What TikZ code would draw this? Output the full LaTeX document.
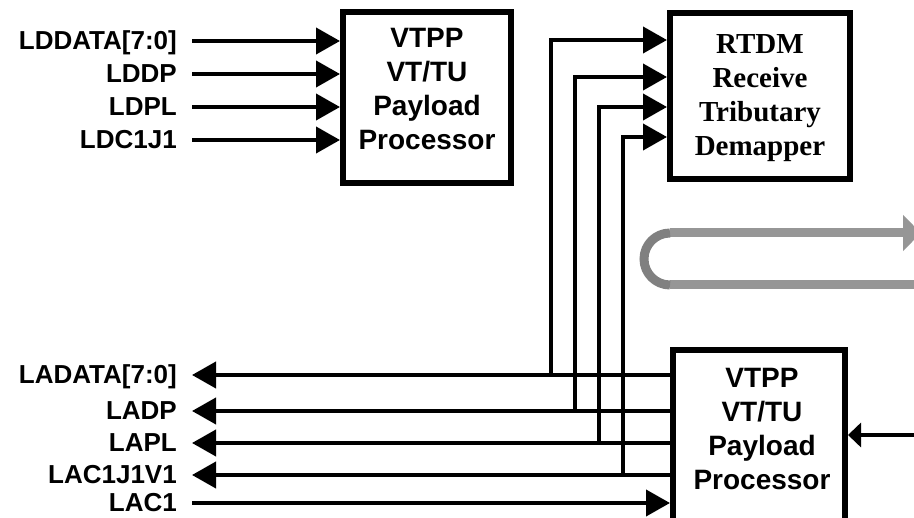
\documentclass[tikz,border=0pt]{standalone}
\usepackage{fontspec}
\setmainfont{Liberation Sans}
\newfontfamily\rtdmfont{Liberation Serif}
\usetikzlibrary{arrows.meta}
\begin{document}
\begin{tikzpicture}[x=1pt,y=-1pt,
  wire/.style={line width=4pt},
  inarr/.style={wire, -{Triangle[length=24pt,width=26pt]}},
  smallarr/.style={wire, -{Triangle[length=13pt,width=24pt]}},
  blk/.style={draw, line width=6pt, inner sep=0pt},
  sig/.style={font=\fontsize{26}{30}\selectfont\bfseries, anchor=base east, inner sep=0pt},
  btxt/.style={font=\fontsize{28}{34}\selectfont\bfseries, align=center, anchor=north, inner sep=0pt},
  stxt/.style={font=\fontsize{29}{34.2}\selectfont\rtdmfont\bfseries, align=center, anchor=north, inner sep=0pt},
  greyline/.style={draw=black!41, line width=9pt},
  greyarc/.style={draw=black!50, line width=9pt}
]
\useasboundingbox (0,0) rectangle (914,518);

% blocks
\node[blk, minimum width=168pt, minimum height=171pt] (vtpp1) at (427,97.5) {};
\node[btxt] (vtpp1t) at (427,28) {VTPP\\VT/TU\\Payload\\Processor};
\node[blk, minimum width=180pt, minimum height=166pt] (rtdm) at (760,96) {};
\node[stxt] (rtdmt) at (760,34) {RTDM\\Receive\\Tributary\\Demapper};
\node[blk, minimum width=172pt, minimum height=210pt] (vtpp2) at (759,455) {};
\node[btxt] (vtpp2t) at (762,368) {VTPP\\VT/TU\\Payload\\Processor};

% top-left inputs
\foreach \y/\t/\n in {41/LDDATA[7:0]/a, 74/LDDP/b, 107/LDPL/c, 140/LDC1J1/d}{
  \node[sig] (ld\n) at (177,\y+9) {\t};
  \coordinate (ls\n) at (192,\y);
  \draw[inarr] (ls\n) -- (vtpp1.west |- ls\n);
}

% bottom-left outputs
\foreach \y/\t/\n in {375/LADATA[7:0]/a, 411/LADP/b, 443/LAPL/c, 475/LAC1J1V1/d}{
  \node[sig] (la\n) at (177,\y+9) {\t};
  \coordinate (le\n) at (192,\y);
  \draw[inarr] (vtpp2.west |- le\n) -- (le\n);
}
\node[sig] (lae) at (177,503+9) {LAC1};
\coordinate (lee) at (192,503);
\draw[inarr] (lee) -- (vtpp2.west |- lee);

% taps to RTDM
\coordinate (ja) at (551,375);
\coordinate (jb) at (575,411);
\coordinate (jc) at (599,443);
\coordinate (jd) at (623,475);
\coordinate (ra) at (668,40);
\coordinate (rb) at (668,77);
\coordinate (rc) at (668,107);
\coordinate (rd) at (668,137);
\draw[inarr] (ja) |- (rtdm.west |- ra);
\draw[inarr] (jb) |- (rtdm.west |- rb);
\draw[inarr] (jc) |- (rtdm.west |- rc);
\draw[inarr] (jd) |- (rtdm.west |- rd);

% right input
\coordinate (rin) at (916,435);
\draw[smallarr] (rin) -- (vtpp2.east |- rin);

% grey loop
\coordinate (g1) at (670,233);
\coordinate (g2) at (670,285);
\coordinate (g1e) at (921,233);
\coordinate (g2e) at (916,285);
\draw[greyline, -{Triangle[length=18pt,width=35pt]}] (g1) -- (g1e);
\draw[greyline] (g2) -- (g2e);
\draw[greyarc] (g1) arc[start angle=90, end angle=270, radius=26pt];
\end{tikzpicture}
\end{document}
